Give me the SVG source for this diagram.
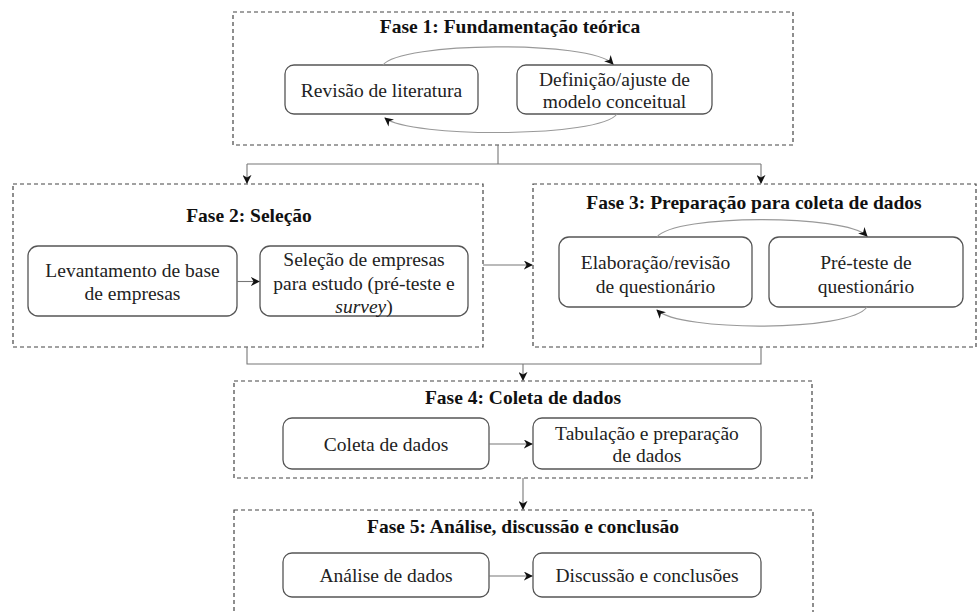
<svg xmlns="http://www.w3.org/2000/svg" width="979" height="612" viewBox="0 0 979 612">
<defs>
<style>
.phase{fill:none;stroke:#444;stroke-width:1.2;stroke-dasharray:4,3}
.node{fill:#fff;stroke:#555;stroke-width:1.3}
.t{font-family:"Liberation Serif","Times New Roman",serif;font-size:19.5px;fill:#222;text-anchor:middle}
.h{font-family:"Liberation Serif","Times New Roman",serif;font-size:19.5px;font-weight:bold;fill:#111;text-anchor:middle}
.c{fill:none;stroke:#777;stroke-width:1.1}
.cv{fill:none;stroke:#999;stroke-width:1.1}
</style>
<marker id="ah" viewBox="0 0 10 10" refX="9" refY="5" markerWidth="9" markerHeight="9" markerUnits="userSpaceOnUse" orient="auto">
<path d="M0,0 L10,5 L0,10 L3,5 z" fill="#111"/>
</marker>
</defs>
<rect width="979" height="612" fill="#fff"/>

<g id="fase1">
<rect class="phase" x="233" y="12" width="560" height="133"/>
<text class="h" x="510" y="33">Fase 1: Fundamentação teórica</text>
</g>
<g id="revisao">
<rect class="node" x="285" y="65" width="193" height="49" rx="9"/>
<text class="t" x="381.5" y="96.5">Revisão de literatura</text>
</g>
<g id="definicao">
<rect class="node" x="517" y="65" width="195" height="49" rx="9"/>
<text class="t" x="614.5" y="86">Definição/ajuste de</text>
<text class="t" x="614.5" y="108">modelo conceitual</text>
</g>

<g id="fase2">
<rect class="phase" x="13" y="184" width="470" height="163"/>
<text class="h" x="249" y="222">Fase 2: Seleção</text>
</g>
<g id="levantamento">
<rect class="node" x="28" y="246" width="209" height="70" rx="10"/>
<text class="t" x="132.5" y="277">Levantamento de base</text>
<text class="t" x="132.5" y="300">de empresas</text>
</g>
<g id="selecao">
<rect class="node" x="260" y="246" width="208" height="70" rx="10"/>
<text class="t" x="364" y="266">Seleção de empresas</text>
<text class="t" x="364" y="289.5">para estudo (pré-teste e</text>
<text class="t" x="364" y="313"><tspan font-style="italic">survey</tspan>)</text>
</g>

<g id="fase3">
<rect class="phase" x="533" y="184" width="443" height="163"/>
<text class="h" x="754" y="209">Fase 3: Preparação para coleta de dados</text>
</g>
<g id="elaboracao">
<rect class="node" x="559" y="237" width="193" height="70" rx="10"/>
<text class="t" x="655.5" y="269">Elaboração/revisão</text>
<text class="t" x="655.5" y="292.5">de questionário</text>
</g>
<g id="preteste">
<rect class="node" x="769" y="237" width="194" height="70" rx="10"/>
<text class="t" x="866" y="269">Pré-teste de</text>
<text class="t" x="866" y="292.5">questionário</text>
</g>

<g id="fase4">
<rect class="phase" x="234" y="381" width="578" height="97"/>
<text class="h" x="523" y="404">Fase 4: Coleta de dados</text>
</g>
<g id="coleta">
<rect class="node" x="283" y="418" width="206" height="51" rx="9"/>
<text class="t" x="386" y="450.5">Coleta de dados</text>
</g>
<g id="tabulacao">
<rect class="node" x="533" y="418" width="228" height="51" rx="9"/>
<text class="t" x="647" y="440">Tabulação e preparação</text>
<text class="t" x="647" y="462">de dados</text>
</g>

<g id="fase5">
<rect class="phase" x="234" y="510" width="579" height="140"/>
<text class="h" x="523" y="533">Fase 5: Análise, discussão e conclusão</text>
</g>
<g id="analise">
<rect class="node" x="283" y="553" width="206" height="44" rx="9"/>
<text class="t" x="386" y="582">Análise de dados</text>
</g>
<g id="discussao">
<rect class="node" x="533" y="553" width="228" height="44" rx="9"/>
<text class="t" x="647" y="582">Discussão e conclusões</text>
</g>

<g id="connectors">
<path class="cv" d="M383,65 C400,42 590,40 613,64" marker-end="url(#ah)"/>
<path class="cv" d="M617,114 C600,138 410,138 385,118" marker-end="url(#ah)"/>
<path class="c" d="M498,145 V164 M247,164 H761"/>
<path class="c" d="M247,164 V183" marker-end="url(#ah)"/>
<path class="c" d="M761,164 V183" marker-end="url(#ah)"/>
<path class="c" d="M237,281.5 H259" marker-end="url(#ah)"/>
<path class="c" d="M483,265 H532" marker-end="url(#ah)"/>
<path class="cv" d="M657,237 C675,214 845,214 867,236" marker-end="url(#ah)"/>
<path class="cv" d="M867,307 C850,332 680,332 657,310" marker-end="url(#ah)"/>
<path class="c" d="M247,347 V364 H761 V347"/>
<path class="c" d="M523,364 V380" marker-end="url(#ah)"/>
<path class="c" d="M489,444 H532" marker-end="url(#ah)"/>
<path class="c" d="M523,478 V509" marker-end="url(#ah)"/>
<path class="c" d="M489,576 H532" marker-end="url(#ah)"/>
</g>
</svg>
